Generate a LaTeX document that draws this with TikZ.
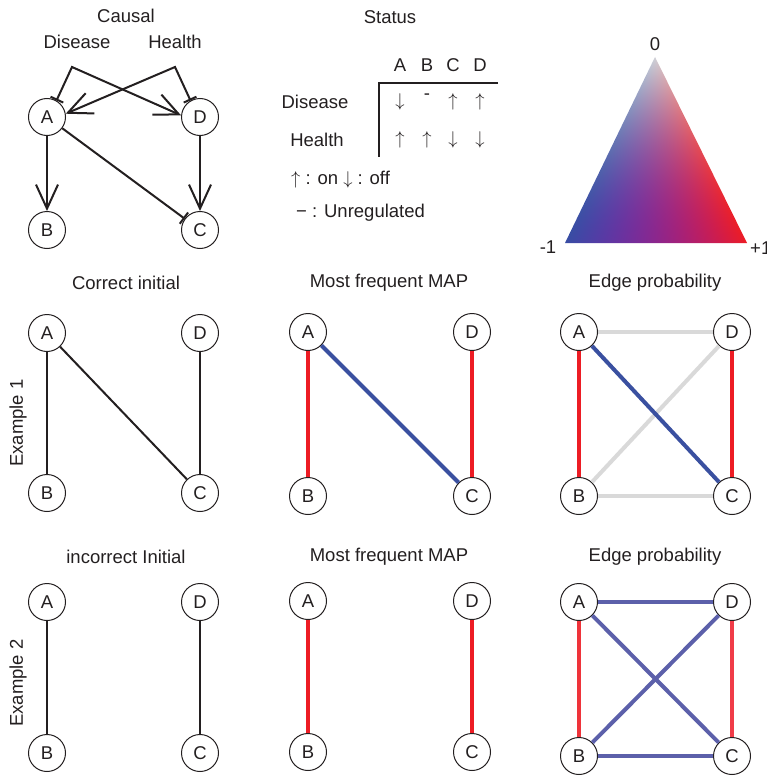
\RequirePackage{fix-cm}
\documentclass[tikz,border=0pt]{standalone}
\usepackage{fontspec}
\setmainfont{Liberation Sans}
\usetikzlibrary{arrows.meta}

\definecolor{ink}{RGB}{35,31,32}
\definecolor{edgered}{RGB}{237,28,36}
\definecolor{edgeblue}{RGB}{58,80,160}
\definecolor{edgegrey}{RGB}{217,217,217}
\definecolor{edgeslate}{RGB}{92,96,170}
\definecolor{edgepink}{RGB}{240,60,72}

% ternary colour map: grey at the apex, blue bottom-left, red bottom-right,
% purple along the middle of the base; the grey fades quadratically
\pgfdeclarefunctionalshading{ternary}{\pgfpoint{0bp}{0bp}}{\pgfpoint{190bp}{194bp}}{}{
4 sub 186 div
exch 4 sub 182 div
1 index 0.4945 mul sub
2 copy add 1 exch sub
2 index 1 add mul
exch 2 index 1 add mul exch
3 -1 roll dup mul 3 1 roll
2 index 0.82 mul 2 index 0.93 mul add 1 index 0.22 mul add
2 index 2 index mul -0.10 mul add
3 index 0.82 mul 3 index 0.11 mul add 2 index 0.30 mul add
3 index 3 index mul -0.22 mul add
4 index 0.84 mul 4 index 0.14 mul add 3 index 0.64 mul add
4 index 4 index mul 0.64 mul add
6 3 roll pop pop pop
}

\tikzset{
  vtx/.style={circle, draw=ink, line width=1pt, minimum size=37pt, inner sep=0pt,
    font=\fontsize{18.5}{22}\selectfont, text=ink},
  lbl/.style={font=\fontsize{18.5}{22}\selectfont, text=ink, inner sep=0pt},
  blk/.style={draw=ink, line width=2pt},
  act/.style={blk, -{Straight Barb[length=24pt,width=22pt]}},
  inh/.style={blk, -{Bar[width=14pt]}},
  branch/.style={blk, {Bar[width=14pt]}-{Straight Barb[length=24pt,width=22pt]}},
  wide/.style={line width=4pt},
  tabline/.style={draw=ink, line width=1.2pt},
}

\begin{document}
\begin{tikzpicture}[x=1pt, y=-1pt]
\useasboundingbox (0,0) rectangle (766,776);

% ---------- causal network ----------
\node[lbl] (tCausal) at (126,16) {Causal};
\node[lbl] (tDis) at (77,42) {Disease};
\node[lbl] (tHea) at (175,42) {Health};
\coordinate (pd) at (72,67);
\coordinate (ph) at (175,67);
\node[vtx] (cA) at (47,117) {A};
\node[vtx] (cD) at (200,117) {D};
\node[vtx] (cB) at (47,230) {B};
\node[vtx] (cC) at (200,230) {C};
\draw[branch] (cA.60) -- (pd) -- (cD.175);
\draw[branch] (cD.120) -- (ph) -- (cA.10);
\draw[act] (cA) -- (cB);
\draw[act] (cD) -- (cC);
\draw[inh] (cA) -- (cC);

% ---------- status table ----------
\node[lbl] (tStatus) at (390,17) {Status};
\node[lbl] (hA) at (400,65) {A};
\node[lbl] (hB) at (427,65) {B};
\node[lbl] (hC) at (453,65) {C};
\node[lbl] (hD) at (480,65) {D};
\coordinate (corner) at (379,83);
\coordinate (hend) at (498,83);
\coordinate (vend) at (379,157);
\draw[tabline] (hend) -- (corner) -- (vend);
\node[lbl] (rDis) at (315,102) {Disease};
\node[lbl] (rHea) at (317,140) {Health};
\node[lbl] (dA) at (400,102) {$\downarrow$};
\node[lbl] (dB) at (427,97) {-};
\node[lbl] (dC) at (453,102) {$\uparrow$};
\node[lbl] (dD) at (480,102) {$\uparrow$};
\node[lbl] (hlA) at (400,140) {$\uparrow$};
\node[lbl] (hlB) at (427,140) {$\uparrow$};
\node[lbl] (hlC) at (453,140) {$\downarrow$};
\node[lbl] (hlD) at (480,140) {$\downarrow$};
\node[lbl, anchor=west] (key1) at (291,180) {$\uparrow$ : on $\downarrow$ : off};
\node[lbl, anchor=west] (key2) at (296,213) {− : Unregulated};

% ---------- colour key ----------
\begin{scope}
  \clip (565,243) -- (655,57) -- (747,243) -- cycle;
  \node[inner sep=0pt, outer sep=0pt, anchor=south west] (tri) at (561,247) {\pgfuseshading{ternary}};
\end{scope}
\node[lbl] (kZero) at (655,44) {0};
\node[lbl] (kMinus) at (548,247) {-1};
\node[lbl, anchor=west] (kPlus) at (750,248) {+1};

% ---------- example 1 ----------
\node[lbl, rotate=90] (ex1) at (18,423) {Example 1};
\node[lbl] (t1a) at (126,283) {Correct initial};
\node[lbl] (t1b) at (389,283) {Most frequent MAP};
\node[lbl] (t1c) at (655,283) {Edge probability};

\node[vtx] (iA) at (47,333) {A};
\node[vtx] (iD) at (200,333) {D};
\node[vtx] (iB) at (47,493) {B};
\node[vtx] (iC) at (200,493) {C};
\draw[blk] (iA) -- (iB);
\draw[blk] (iA) -- (iC);
\draw[blk] (iD) -- (iC);

\node[vtx] (mA) at (308,332) {A};
\node[vtx] (mD) at (472,332) {D};
\node[vtx] (mB) at (308,496) {B};
\node[vtx] (mC) at (472,496) {C};
\draw[wide, edgered] (mA) -- (mB);
\draw[wide, edgeblue] (mA) -- (mC);
\draw[wide, edgered] (mD) -- (mC);

\node[vtx] (pA) at (579,332) {A};
\node[vtx] (pD) at (732,332) {D};
\node[vtx] (pB) at (579,496) {B};
\node[vtx] (pC) at (732,496) {C};
\draw[wide, edgegrey] (pA) -- (pD);
\draw[wide, edgegrey] (pB) -- (pD);
\draw[wide, edgegrey] (pB) -- (pC);
\draw[wide, edgered] (pA) -- (pB);
\draw[wide, edgered] (pD) -- (pC);
\draw[wide, edgeblue] (pA) -- (pC);

% ---------- example 2 ----------
\node[lbl, rotate=90] (ex2) at (18,683) {Example 2};
\node[lbl] (t2a) at (126,557) {incorrect Initial};
\node[lbl] (t2b) at (389,557) {Most frequent MAP};
\node[lbl] (t2c) at (655,557) {Edge probability};

\node[vtx] (jA) at (47,602) {A};
\node[vtx] (jD) at (200,602) {D};
\node[vtx] (jB) at (47,753) {B};
\node[vtx] (jC) at (200,753) {C};
\draw[blk] (jA) -- (jB);
\draw[blk] (jD) -- (jC);

\node[vtx] (nA) at (308,601) {A};
\node[vtx] (nD) at (472,601) {D};
\node[vtx] (nB) at (308,752) {B};
\node[vtx] (nC) at (472,752) {C};
\draw[wide, edgered] (nA) -- (nB);
\draw[wide, edgered] (nD) -- (nC);

\node[vtx] (qA) at (579,602) {A};
\node[vtx] (qD) at (732,602) {D};
\node[vtx] (qB) at (579,756) {B};
\node[vtx] (qC) at (732,756) {C};
\draw[wide, edgeslate] (qA) -- (qD);
\draw[wide, edgeslate] (qB) -- (qC);
\draw[wide, edgeslate] (qB) -- (qD);
\draw[wide, edgeslate] (qA) -- (qC);
\draw[wide, edgered!90!white] (qA) -- (qB);
\draw[wide, edgepink] (qD) -- (qC);
\end{tikzpicture}
\end{document}
